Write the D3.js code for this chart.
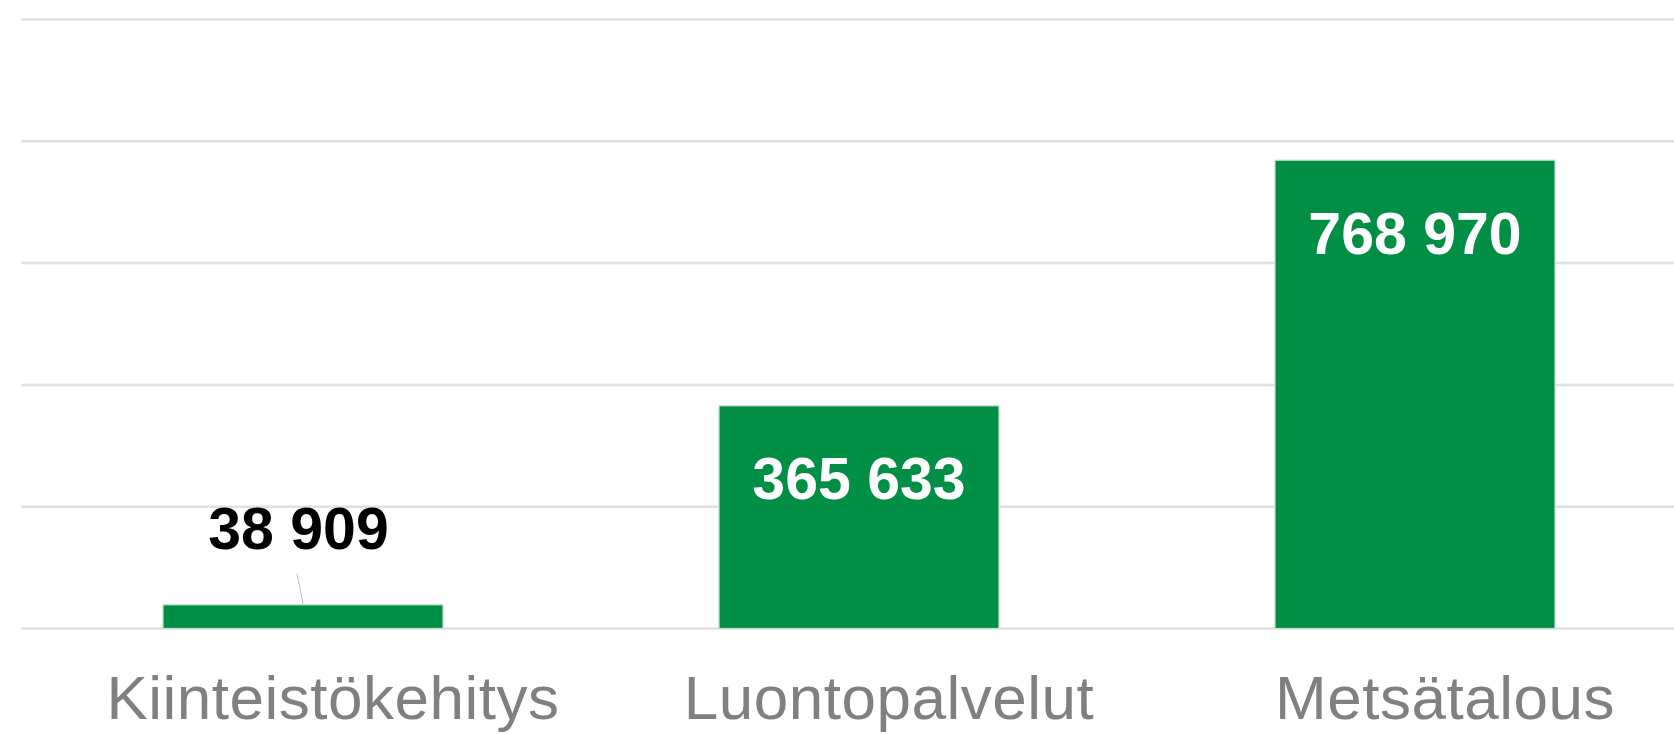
<!DOCTYPE html>
<html>
<head>
<meta charset="utf-8">
<script src="https://cdn.jsdelivr.net/npm/d3@7"></script>
<style>
  html, body { margin: 0; padding: 0; background: #fff; }
  svg { display: block; }
</style>
</head>
<body>
<svg id="chart" width="1674" height="734"></svg>
<script>
// ---- data ----
const categories = ["Kiinteistökehitys", "Luontopalvelut", "Metsätalous"];
const values = [38909, 365633, 768970];
const valueLabels = ["38 909", "365 633", "768 970"];
const yTicks = [0, 200000, 400000, 600000, 800000, 1000000];

// ---- layout ----
const W = 1674, H = 734;
const svg = d3.select("#chart");

const y = d3.scaleLinear().domain([0, 1000000]).range([628.5, 19.5]);
const x = d3.scaleBand().domain(categories).range([25, 1693])
  .paddingInner(0.4964).paddingOuter(0.2482);

// gridlines
svg.append("g").selectAll("line").data(yTicks).join("line")
  .attr("x1", 21).attr("x2", W)
  .attr("y1", d => y(d)).attr("y2", d => y(d))
  .attr("stroke", "#e0e0e0").attr("stroke-width", 2.5);

const data = categories.map((c, i) => ({ c, v: values[i], label: valueLabels[i] }));

// bars
svg.append("g").selectAll("rect").data(data).join("rect")
  .attr("x", d => x(d.c))
  .attr("y", d => y(d.v))
  .attr("width", x.bandwidth())
  .attr("height", d => y(0) - y(d.v))
  .attr("fill", "#008f45")
  .attr("stroke", "#c3e2cf")
  .attr("stroke-width", 1.2);

// value labels
const insideMin = 150;
const lab = svg.append("g");
data.forEach(d => {
  const cx = x(d.c) + x.bandwidth() / 2;
  const h = y(0) - y(d.v);
  if (h > insideMin) {
    lab.append("text")
      .attr("x", cx).attr("y", y(d.v) + 93.5)
      .attr("text-anchor", "middle")
      .attr("font-family", "Liberation Sans, Arial, sans-serif")
      .attr("font-weight", "bold").attr("font-size", 59)
      .attr("fill", "#ffffff")
      .text(d.label);
  } else {
    lab.append("line")
      .attr("x1", cx - 6).attr("y1", y(d.v) - 31)
      .attr("x2", cx).attr("y2", y(d.v) - 1)
      .attr("stroke", "#bdbdbd").attr("stroke-width", 1);
    lab.append("text")
      .attr("x", cx - 4.5).attr("y", y(d.v) - 56)
      .attr("text-anchor", "middle")
      .attr("font-family", "Liberation Sans, Arial, sans-serif")
      .attr("font-weight", "bold").attr("font-size", 59)
      .attr("fill", "#000000")
      .text(d.label);
  }
});

// category labels
svg.append("g").selectAll("text").data(categories).join("text")
  .attr("x", d => x(d) + x.bandwidth() / 2 + 30)
  .attr("y", 719)
  .attr("text-anchor", "middle")
  .attr("font-family", "Liberation Sans, Arial, sans-serif")
  .attr("font-size", 62)
  .attr("letter-spacing", 0.5)
  .attr("fill", "#808080")
  .text(d => d);
</script>
</body>
</html>
